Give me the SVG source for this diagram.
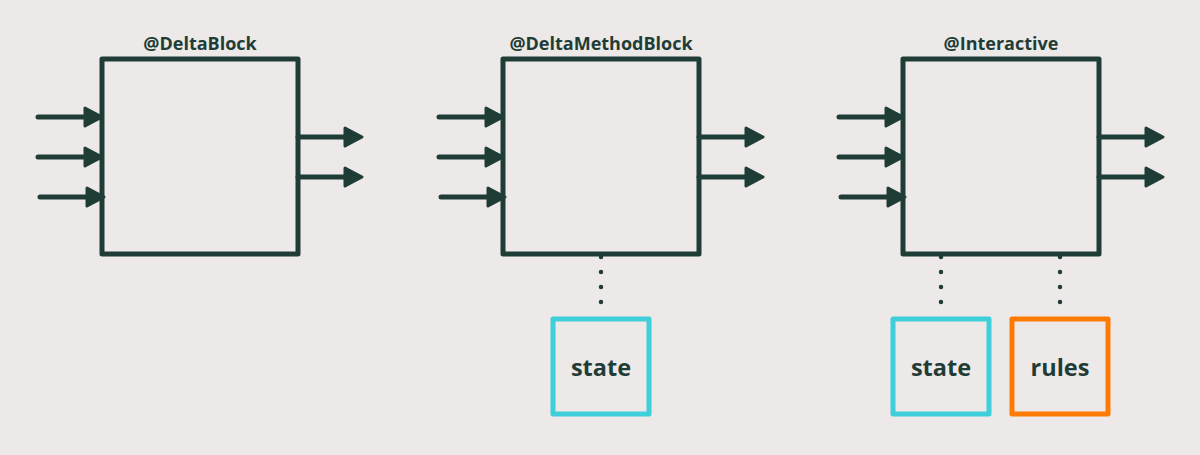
<svg xmlns="http://www.w3.org/2000/svg" width="1200" height="455" viewBox="0 0 1200 455">
<defs>
<style>
.blk{fill:none;stroke:#1f3d36;stroke-width:5;stroke-linejoin:round}
.ln{stroke:#1f3d36;stroke-width:5;stroke-linecap:round;fill:none}
.hd{fill:#1f3d36;stroke:#1f3d36;stroke-width:3;stroke-linejoin:round}
.dot{stroke:#1f3d36;stroke-width:4.5;stroke-linecap:round;stroke-dasharray:0 15;fill:none}
.ttl{font-family:"Open Sans","DejaVu Sans",sans-serif;font-weight:bold;font-size:18px;fill:#1f3d36;text-anchor:middle}
.lbl{font-family:"Open Sans","DejaVu Sans",sans-serif;font-weight:bold;font-size:23.5px;fill:#1f3d36;text-anchor:middle}
.st{fill:none;stroke:#3ecfda;stroke-width:5;stroke-linejoin:round}
.ru{fill:none;stroke:#ff7a00;stroke-width:5;stroke-linejoin:round}
</style>
<g id="ain"><line class="ln" x1="0" y1="0" x2="50" y2="0"/><polygon class="hd" points="47,-9 64,0 47,9"/></g>
</defs>
<rect width="1200" height="455" fill="#ede9e8"/>
<g id="connectors">
<use href="#ain" x="38" y="117"/><use href="#ain" x="38" y="157"/><use href="#ain" x="40" y="197"/>
<use href="#ain" x="298" y="137"/><use href="#ain" x="298" y="177"/>
<use href="#ain" x="439" y="117"/><use href="#ain" x="439" y="157"/><use href="#ain" x="441" y="197"/>
<use href="#ain" x="699" y="137"/><use href="#ain" x="699" y="177"/>
<use href="#ain" x="839" y="117"/><use href="#ain" x="839" y="157"/><use href="#ain" x="841" y="197"/>
<use href="#ain" x="1099" y="137"/><use href="#ain" x="1099" y="177"/>
<line class="dot" x1="601" y1="257" x2="601" y2="303"/>
<line class="dot" x1="941" y1="257" x2="941" y2="303"/>
<line class="dot" x1="1060" y1="257" x2="1060" y2="303"/>
</g>
<g id="deltablock"><rect class="blk" x="102" y="59" width="196" height="195"/><text class="ttl" x="200" y="50">@DeltaBlock</text></g>
<g id="deltamethodblock"><rect class="blk" x="503" y="59" width="196" height="195"/><text class="ttl" x="601" y="50">@DeltaMethodBlock</text></g>
<g id="interactive"><rect class="blk" x="903" y="59" width="196" height="195"/><text class="ttl" x="1001" y="50">@Interactive</text></g>
<g id="state1"><rect class="st" x="553" y="319" width="96" height="95"/><text class="lbl" x="601" y="376">state</text></g>
<g id="state2"><rect class="st" x="893" y="319" width="96" height="95"/><text class="lbl" x="941" y="376">state</text></g>
<g id="rules"><rect class="ru" x="1012" y="319" width="96" height="95"/><text class="lbl" x="1060" y="376">rules</text></g>
</svg>
